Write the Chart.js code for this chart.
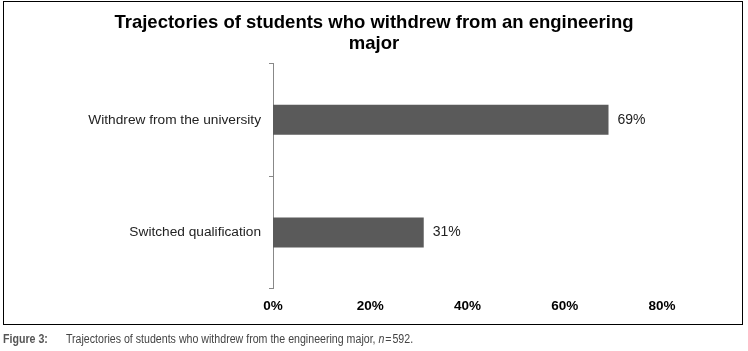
<!DOCTYPE html>
<html>
<head>
<meta charset="utf-8">
<script src="https://cdn.jsdelivr.net/npm/chart.js@4.4.1/dist/chart.umd.min.js"></script>
<style>
  html, body { margin: 0; padding: 0; background: #fff; }
  body { width: 748px; height: 351px; position: relative; overflow: hidden; }
  #wrap { position: absolute; left: 0; top: 0; width: 748px; height: 324px; }
  #frame { position: absolute; left: 3px; top: 1px; width: 738px; height: 322px; border: 1px solid #000; pointer-events: none; box-sizing: content-box; }
  #caption { position: absolute; left: 3px; top: 332px; font-family: "Liberation Sans Narrow", "Arial Narrow", "Liberation Sans", Arial, sans-serif; font-size: 12.5px; color: #444; white-space: nowrap; transform: scaleX(0.85); transform-origin: 0 0; }
  #caption b { color: #555; display: inline-block; width: 74px; }
</style>
</head>
<body>
<div id="wrap"><canvas id="c" width="748" height="324"></canvas></div>
<div id="frame"></div>
<div id="caption"><b>Figure 3:</b>Trajectories of students who withdrew from the engineering major, <i>n</i>&#8202;=&#8202;592.</div>
<script>
const titleLines = ['Trajectories of students who withdrew from an engineering', 'major'];
const categories = ['Withdrew from the university', 'Switched qualification'];
const values = [69, 31];
const xTicks = [0, 20, 40, 60, 80];

const valueLabels = {
  id: 'valueLabels',
  afterDatasetsDraw(chart) {
    const ctx = chart.ctx;
    const meta = chart.getDatasetMeta(0);
    ctx.save();
    ctx.font = '14px "Liberation Sans", Arial, sans-serif';
    ctx.fillStyle = '#222';
    ctx.textAlign = 'left';
    ctx.textBaseline = 'middle';
    meta.data.forEach((bar, i) => {
      ctx.fillText(values[i] + '%', bar.x + 9, bar.y);
    });
    ctx.restore();
  }
};

new Chart(document.getElementById('c'), {
  type: 'bar',
  data: {
    labels: categories,
    datasets: [{
      data: values,
      backgroundColor: '#5a5a5a',
      borderWidth: 0,
      barPercentage: 1,
      categoryPercentage: 0.267
    }]
  },
  options: {
    indexAxis: 'y',
    responsive: false,
    animation: false,
    layout: { padding: { top: 3, left: 86, right: 86, bottom: 9 } },
    plugins: {
      legend: { display: false },
      tooltip: { enabled: false },
      title: {
        display: true,
        text: titleLines,
        color: '#000',
        font: { family: '"Liberation Sans", Arial, sans-serif', size: 18.5, weight: 'bold', lineHeight: 1.12 },
        padding: { top: 10, bottom: 9 }
      }
    },
    scales: {
      x: {
        min: 0,
        max: 80,
        afterBuildTicks(scale) { scale.ticks = xTicks.map(v => ({ value: v })); },
        grid: { display: false },
        border: { display: false },
        ticks: {
          color: '#000',
          padding: 1,
          font: { family: '"Liberation Sans", Arial, sans-serif', size: 13.5, weight: 'bold' },
          callback: (v) => v + '%'
        }
      },
      y: {
        afterFit(scale) { scale.width = 187; },
        grid: { display: true, drawOnChartArea: false, drawTicks: true, tickLength: 4, color: '#888', offset: true },
        border: { display: true, color: '#888', width: 1 },
        ticks: {
          color: '#222',
          padding: 8,
          font: { family: '"Liberation Sans", Arial, sans-serif', size: 13.7 }
        }
      }
    }
  },
  plugins: [valueLabels]
});
</script>
</body>
</html>
